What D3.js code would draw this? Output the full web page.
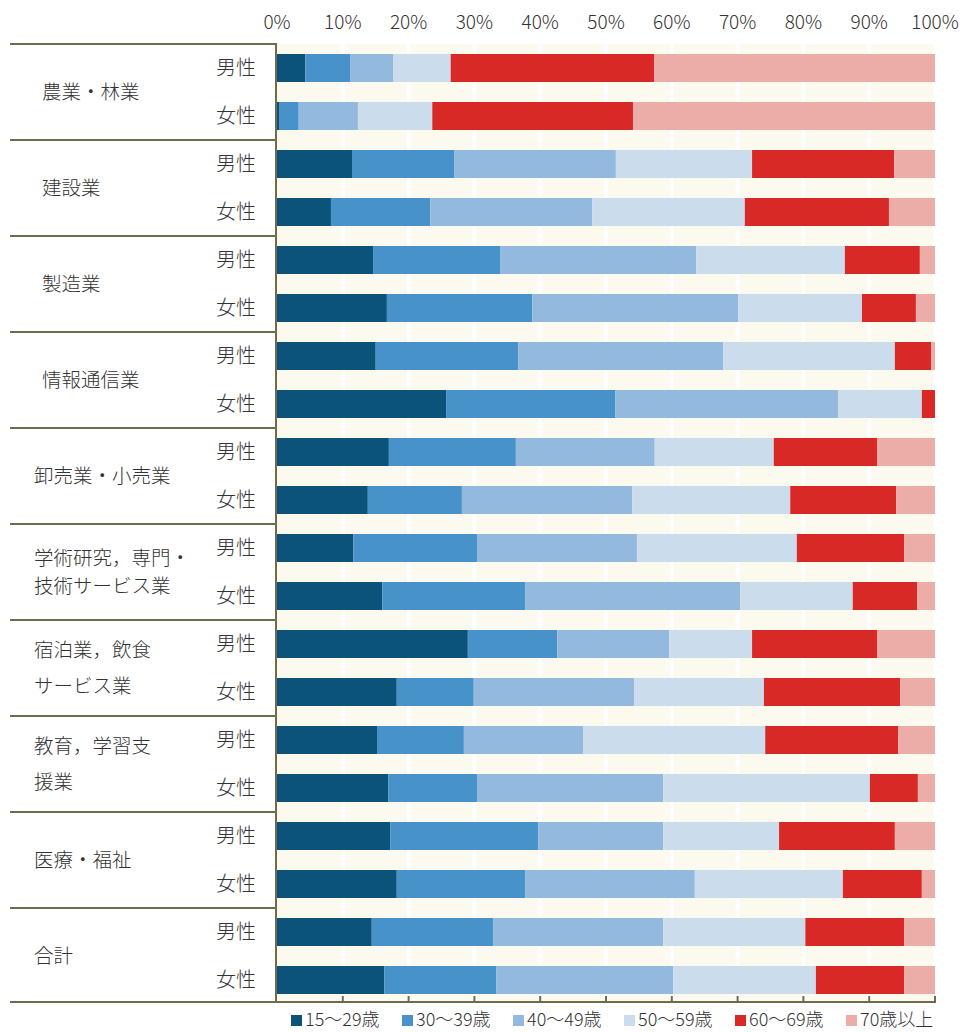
<!DOCTYPE html>
<html>
<head>
<meta charset="utf-8">
<script src="https://cdn.jsdelivr.net/npm/d3@7.9.0/dist/d3.min.js"></script>
<style>
  body { margin: 0; background: #fff; }
  svg text { font-family: "Noto Sans CJK JP", "Noto Sans", sans-serif; font-weight: 300; fill: #333; }
</style>
</head>
<body>
<svg id="chart" width="964" height="1032"></svg>
<script>
// industries (label lines) and sexes
const industries = [
  ['農業・林業'],
  ['建設業'],
  ['製造業'],
  ['情報通信業'],
  ['卸売業・小売業'],
  ['学術研究，専門・', '技術サービス業'],
  ['宿泊業，飲食', 'サービス業'],
  ['教育，学習支', '援業'],
  ['医療・福祉'],
  ['合計']
];
const sexes = ['男性', '女性'];
const ageGroups = ['15〜29歳', '30〜39歳', '40〜49歳', '50〜59歳', '60〜69歳', '70歳以上'];
const colors = ['#0b5379', '#4892ca', '#93b9de', '#cbdcec', '#d92927', '#ecaca8'];
const ticks = [0, 10, 20, 30, 40, 50, 60, 70, 80, 90, 100];

// share (%) per age group, one row per industry x sex
const male = [
  [4.3, 6.8, 6.6, 8.7, 30.9, 42.7],
  [11.4, 15.5, 24.6, 20.7, 21.6, 6.2],
  [14.6, 19.3, 29.8, 22.6, 11.4, 2.3],
  [15.0, 21.7, 31.1, 26.1, 5.5, 0.6],
  [17.0, 19.3, 21.1, 18.1, 15.7, 8.8],
  [11.6, 18.8, 24.3, 24.3, 16.3, 4.7],
  [29.0, 13.6, 17.0, 12.6, 19.0, 8.8],
  [15.2, 13.2, 18.1, 27.7, 20.2, 5.6],
  [17.2, 22.5, 19.0, 17.6, 17.6, 6.1],
  [14.4, 18.5, 25.8, 21.6, 15.0, 4.7]
];
const female = [
  [0.4, 2.9, 9.0, 11.3, 30.5, 45.9],
  [8.2, 15.1, 24.6, 23.2, 21.9, 7.0],
  [16.7, 22.1, 31.3, 18.8, 8.2, 2.9],
  [25.7, 25.7, 33.9, 12.7, 2.0, 0.0],
  [13.8, 14.3, 25.9, 24.0, 16.1, 5.9],
  [16.0, 21.7, 32.7, 17.1, 9.8, 2.7],
  [18.2, 11.7, 24.4, 19.7, 20.7, 5.3],
  [16.9, 13.5, 28.3, 31.4, 7.3, 2.6],
  [18.2, 19.5, 25.8, 22.5, 12.0, 2.0],
  [16.3, 17.0, 26.9, 21.7, 13.4, 4.7]
];

const svg = d3.select('#chart');
const lineColor = '#6e6c4e';
const plotLeft = 277, plotRight = 935, plotTop = 44, plotBottom = 1004;
const tableLeft = 10;

// one row per industry x sex
let rows = [];
industries.forEach((ind, i) => {
  rows.push({ key: i + '-m', ind: i, sex: 0, values: male[i] });
  rows.push({ key: i + '-f', ind: i, sex: 1, values: female[i] });
});

const x = d3.scaleLinear().domain([0, 100]).range([plotLeft, plotRight]);
const y = d3.scaleBand()
  .domain(rows.map(d => d.key))
  .range([plotTop, plotBottom])
  .paddingInner(0.4167)
  .paddingOuter(0.2083);

// cream plot background + white grid
svg.append('rect')
  .attr('x', x(0)).attr('y', plotTop)
  .attr('width', x(100) - x(0)).attr('height', plotBottom - 2 - plotTop)
  .attr('fill', '#fcf9ee');
svg.append('g')
  .selectAll('line')
  .data(ticks.slice(1))
  .join('line')
  .attr('x1', d => x(d)).attr('x2', d => x(d))
  .attr('y1', plotTop).attr('y2', plotBottom - 2)
  .attr('stroke', '#fff').attr('stroke-width', 4);

// stacked bars
let stack = d3.stack().keys(d3.range(ageGroups.length)).value((d, k) => d.values[k]);
let series = stack(rows);
svg.append('g')
  .selectAll('g')
  .data(series)
  .join('g')
  .attr('fill', (s, k) => colors[k])
  .selectAll('rect')
  .data(s => s)
  .join('rect')
  .attr('x', d => x(d[0]))
  .attr('width', d => Math.max(0, x(d[1]) - x(d[0])))
  .attr('y', d => y(d.data.key))
  .attr('height', y.bandwidth());

// top percent labels
svg.append('g')
  .selectAll('text')
  .data(ticks)
  .join('text')
  .attr('x', d => x(d))
  .attr('y', 29)
  .attr('text-anchor', 'middle')
  .attr('font-size', 19)
  .text(d => d + '%');

// bottom axis with inward ticks
const groupH = (plotBottom - plotTop) / industries.length;
svg.append('line')
  .attr('x1', tableLeft).attr('x2', x(100) + 1)
  .attr('y1', plotBottom - 2).attr('y2', plotBottom - 2)
  .attr('stroke', lineColor).attr('stroke-width', 2);
svg.append('g')
  .selectAll('line')
  .data(ticks.slice(1))
  .join('line')
  .attr('x1', d => x(d)).attr('x2', d => x(d))
  .attr('y1', plotBottom - 2).attr('y2', plotBottom - 8)
  .attr('stroke', lineColor).attr('stroke-width', 2);

// table lines on the left
svg.append('g')
  .selectAll('line')
  .data(d3.range(industries.length))
  .join('line')
  .attr('x1', tableLeft).attr('x2', plotLeft)
  .attr('y1', i => plotTop + i * groupH).attr('y2', i => plotTop + i * groupH)
  .attr('stroke', lineColor).attr('stroke-width', 2);
svg.append('line')
  .attr('x1', plotLeft - 1).attr('x2', plotLeft - 1)
  .attr('y1', plotTop - 1).attr('y2', plotBottom - 1)
  .attr('stroke', lineColor).attr('stroke-width', 2);

// sex labels
svg.append('g')
  .selectAll('text')
  .data(rows)
  .join('text')
  .attr('x', 256)
  .attr('y', d => y(d.key) + y.bandwidth() / 2 + 7)
  .attr('text-anchor', 'end')
  .attr('font-size', 20)
  .text(d => sexes[d.sex]);

// industry labels
const lineGap = [0, 0, 0, 0, 0, 28, 36, 36, 0, 0];
industries.forEach((lines, i) => {
  let cy = plotTop + i * groupH + groupH / 2;
  let gap = lineGap[i];
  let t = svg.append('text')
    .attr('font-size', 19.5)
    .attr('x', i < 4 ? 42 : 34);
  lines.forEach((ln, j) => {
    t.append('tspan')
      .attr('x', i < 4 ? 42 : 34)
      .attr('y', cy + 7 + (j - (lines.length - 1) / 2) * gap)
      .text(ln);
  });
});

// legend
let legend = svg.append('g');
ageGroups.forEach((a, k) => {
  let lx = 291 + k * 111;
  legend.append('rect')
    .attr('x', lx).attr('y', 1015)
    .attr('width', 11).attr('height', 11)
    .attr('fill', colors[k]);
  legend.append('text')
    .attr('x', lx + 14).attr('y', 1026)
    .attr('font-size', 18)
    .text(a);
});
</script>
</body>
</html>
